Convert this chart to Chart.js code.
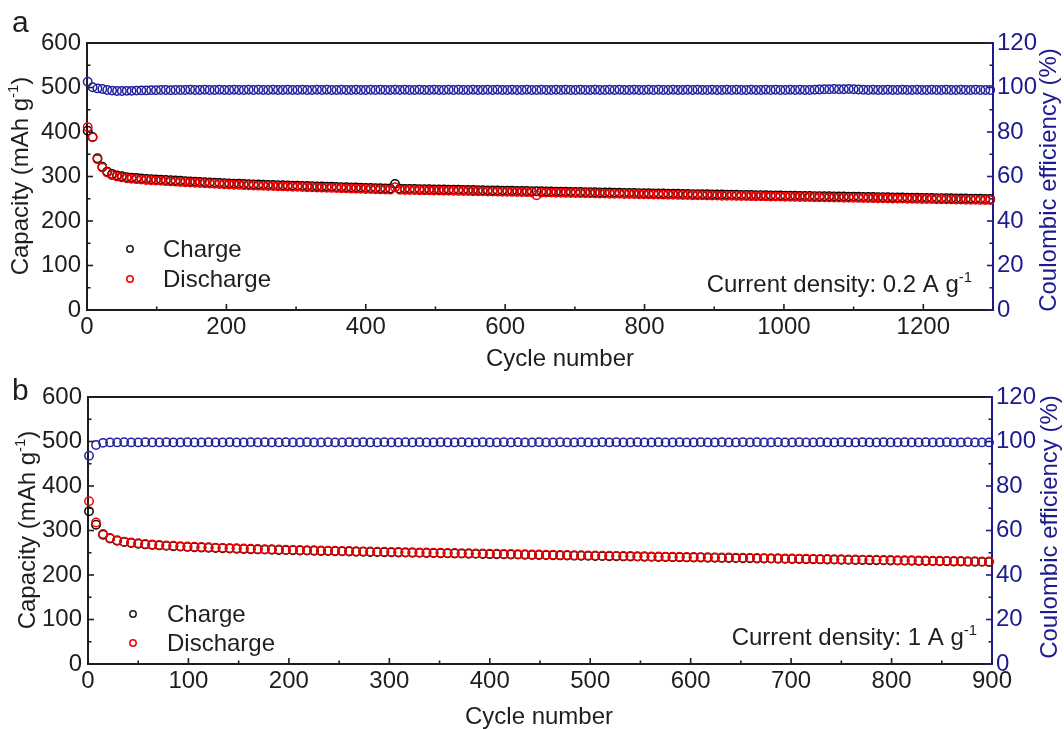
<!DOCTYPE html>
<html>
<head>
<meta charset="utf-8">
<script src="https://cdn.jsdelivr.net/npm/chart.js@4.4.0/dist/chart.umd.min.js"></script>
<style>
  body { margin: 0; background: #fff; }
  #wrap { position: relative; width: 1064px; height: 729px; overflow: hidden; }
  canvas { position: absolute; left: 0; }
</style>
</head>
<body>
<div id="wrap">
  <canvas id="chartA" width="1064" height="372" style="top:0"></canvas>
  <canvas id="chartB" width="1064" height="359" style="top:370px"></canvas>
</div>
<script>
// ---- data: panel a, 0.2 A/g, every 7th cycle ----
const cyclesA = Array.from({ length: 186 }, (_, i) => 1 + 7 * i);

const dischargeA = [
  411, 388, 339, 320, 309, 303, 300, 298, 296, 295,
  294, 293, 292.2, 291.5, 290.8, 290.2, 289.6, 289, 288.4, 287.8,
  287.2, 286.6, 286, 285.4, 284.8, 284.2, 283.6, 283.1, 282.6, 282.1,
  281.6, 281.1, 280.6, 280.2, 279.8, 279.4, 279, 278.7, 278.4, 278,
  277.7, 277.4, 277, 276.7, 276.4, 276, 275.7, 275.4, 275, 274.7,
  274.4, 274, 273.7, 273.4, 273, 272.7, 272.4, 272, 271.7, 271.4,
  271, 270.7, 270.4, 276, 270, 269.8, 269.6, 269.4, 269.2, 269,
  268.8, 268.6, 268.4, 268.2, 268, 267.8, 267.6, 267.4, 267.2, 267,
  266.8, 266.6, 266.4, 266.2, 266, 265.8, 265.6, 265.4, 265.2, 265,
  264.8, 264.6, 258, 264.2, 264, 263.8, 263.6, 263.4, 263.2, 263,
  262.8, 262.6, 262.4, 262.2, 262, 261.8, 261.6, 261.4, 261.2, 261,
  260.8, 260.6, 260.4, 260.2, 260, 259.8, 259.6, 259.4, 259.2, 259,
  258.8, 258.6, 258.4, 258.2, 258, 257.8, 257.6, 257.5, 257.3, 257.1,
  256.9, 256.7, 256.6, 256.4, 256.2, 256, 255.8, 255.7, 255.5, 255.3,
  255.1, 254.9, 254.8, 254.6, 254.4, 254.2, 254, 253.9, 253.7, 253.5,
  253.3, 253.1, 253, 252.8, 252.6, 252.4, 252.2, 252.1, 251.9, 251.7,
  251.5, 251.3, 251.2, 251, 250.8, 250.6, 250.4, 250.3, 250.1, 249.9,
  249.7, 249.5, 249.4, 249.2, 249, 248.8, 248.6, 248.5, 248.3, 248.1,
  247.9, 247.7, 247.6, 247.4, 247.2, 247
];

const chargeA = [
  403, 389, 341, 322, 311, 305.5, 302.5, 300.5, 298.5, 297.5,
  296.5, 295.5, 294.7, 294, 293.3, 292.7, 292.1, 291.5, 290.9, 290.3,
  289.7, 289.1, 288.5, 287.9, 287.3, 286.7, 286.1, 285.6, 285.1, 284.6,
  284.1, 283.6, 283.1, 282.7, 282.3, 281.9, 281.5, 281.2, 280.9, 280.5,
  280.2, 279.9, 279.5, 279.2, 278.9, 278.5, 278.2, 277.9, 277.5, 277.2,
  276.9, 276.5, 276.2, 275.9, 275.5, 275.2, 274.9, 274.5, 274.2, 273.9,
  273.5, 273.2, 272.9, 283, 272.5, 272.3, 272.1, 271.9, 271.7, 271.5,
  271.3, 271.1, 270.9, 270.7, 270.5, 270.3, 270.1, 269.9, 269.7, 269.5,
  269.3, 269.1, 268.9, 268.7, 268.5, 268.3, 268.1, 267.9, 267.7, 267.5,
  267.3, 267.1, 266.9, 266.7, 266.5, 266.3, 266.1, 265.9, 265.7, 265.5,
  265.3, 265.1, 264.9, 264.7, 264.5, 264.3, 264.1, 263.9, 263.7, 263.5,
  263.3, 263.1, 262.9, 262.7, 262.5, 262.3, 262.1, 261.9, 261.7, 261.5,
  261.3, 261.1, 260.9, 260.7, 260.5, 260.3, 260.1, 260, 259.8, 259.6,
  259.4, 259.2, 259.1, 258.9, 258.7, 258.5, 258.3, 258.2, 258, 257.8,
  257.6, 257.4, 257.3, 257.1, 256.9, 256.7, 256.5, 256.4, 256.2, 256,
  255.8, 255.6, 255.5, 255.3, 255.1, 254.9, 254.7, 254.6, 254.4, 254.2,
  254, 253.8, 253.7, 253.5, 253.3, 253.1, 252.9, 252.8, 252.6, 252.4,
  252.2, 252, 251.9, 251.7, 251.5, 251.3, 251.1, 251, 250.8, 250.6,
  250.4, 250.2, 250.1, 249.9, 249.7, 249.5
];

const ceA = [
  102.6, 100.1, 99.6, 99.3, 98.9, 98.6, 98.4, 98.4, 98.5, 98.5,
  98.6, 98.7, 98.7, 98.8, 98.8, 98.9, 98.9, 98.8, 98.9, 98.9,
  98.9, 99.0, 98.9, 98.9, 99.0, 98.9, 98.9, 99.0, 98.9, 98.9,
  99.0, 98.9, 98.9, 99.0, 98.9, 99.0, 98.9, 98.9, 99.0, 98.9,
  98.9, 99.0, 98.9, 98.9, 99.0, 98.9, 98.9, 99.0, 98.9, 99.0,
  98.9, 98.9, 99.0, 98.9, 98.9, 99.0, 98.9, 98.9, 99.0, 98.9,
  99.0, 98.9, 98.9, 99.0, 98.9, 99.0, 98.9, 98.9, 99.0, 98.9,
  98.9, 99.0, 98.9, 98.9, 99.0, 98.9, 99.0, 98.9, 98.9, 99.0,
  98.9, 98.9, 99.0, 98.9, 99.0, 98.9, 98.9, 99.0, 98.9, 98.9,
  99.0, 98.9, 98.9, 99.0, 98.9, 98.9, 99.0, 98.9, 99.0, 98.9,
  98.9, 99.0, 98.9, 98.9, 99.0, 98.9, 98.9, 99.0, 98.9, 99.0,
  98.9, 98.9, 99.0, 98.9, 98.9, 99.0, 98.9, 99.0, 98.9, 98.9,
  99.0, 98.9, 98.9, 99.0, 98.9, 99.0, 98.9, 98.9, 99.0, 98.9,
  98.9, 99.0, 98.9, 99.0, 98.9, 98.9, 99.0, 98.9, 98.9, 99.0,
  98.9, 99.0, 98.9, 98.9, 99.0, 98.9, 99.0, 98.9, 98.9, 99.0,
  99.1, 99.2, 99.2, 99.3, 99.2, 99.2, 99.3, 99.2, 99.1, 99.0,
  98.9, 99.0, 98.9, 98.9, 99.0, 98.9, 98.9, 99.0, 98.9, 98.9,
  99.0, 98.9, 98.9, 99.0, 98.9, 98.9, 99.0, 98.9, 98.9, 99.0,
  98.9, 98.9, 99.0, 98.9, 98.9, 98.9
];

// ---- data: panel b, 1 A/g, every 7th cycle ----
const cyclesB = Array.from({ length: 129 }, (_, i) => 1 + 7 * i);

const dischargeB = [
  366, 318, 292, 283, 278, 275, 273, 271.2, 269.8, 268.6,
  267.5, 266.5, 265.6, 264.8, 264.1, 263.4, 262.8, 262.2, 261.6, 261,
  260.5, 260, 259.5, 259, 258.5, 258.1, 257.7, 257.3, 256.9, 256.5,
  256.2, 255.8, 255.5, 255.1, 254.8, 254.4, 254.1, 253.8, 253.4, 253.1,
  252.8, 252.5, 252.2, 251.9, 251.6, 251.3, 251.1, 250.8, 250.5, 250.2,
  249.9, 249.6, 249.4, 249.1, 248.8, 248.5, 248.2, 247.9, 247.7, 247.4,
  247.1, 246.8, 246.5, 246.2, 246, 245.7, 245.4, 245.1, 244.8, 244.5,
  244.3, 244, 243.8, 243.5, 243.3, 243, 242.8, 242.6, 242.3, 242.1,
  241.8, 241.6, 241.4, 241.1, 240.9, 240.6, 240.4, 240.2, 239.9, 239.7,
  239.4, 239.2, 239, 238.7, 238.5, 238.2, 238, 237.8, 237.5, 237.3,
  237, 236.8, 236.6, 236.3, 236.1, 235.8, 235.6, 235.4, 235.1, 234.9,
  234.6, 234.4, 234.2, 233.9, 233.7, 233.4, 233.2, 233, 232.7, 232.5,
  232.2, 232, 231.8, 231.5, 231.3, 231, 230.8, 230.6, 230.3
];

const chargeB = [
  343, 313, 290.5, 282, 277, 274, 272, 270.2, 268.8, 267.6,
  266.5, 265.5, 264.6, 263.8, 263.1, 262.4, 261.8, 261.2, 260.6, 260,
  259.5, 259, 258.5, 258, 257.5, 257.1, 256.7, 256.3, 255.9, 255.5,
  255.2, 254.8, 254.5, 254.1, 253.8, 253.4, 253.1, 252.8, 252.4, 252.1,
  251.8, 251.5, 251.2, 250.9, 250.6, 250.3, 250.1, 249.8, 249.5, 249.2,
  248.9, 248.6, 248.4, 248.1, 247.8, 247.5, 247.2, 246.9, 246.7, 246.4,
  246.1, 245.8, 245.5, 245.2, 245, 244.7, 244.4, 244.1, 243.8, 243.5,
  243.3, 243, 242.8, 242.5, 242.3, 242, 241.8, 241.6, 241.3, 241.1,
  240.8, 240.6, 240.4, 240.1, 239.9, 239.6, 239.4, 239.2, 238.9, 238.7,
  238.4, 238.2, 238, 237.7, 237.5, 237.2, 237, 236.8, 236.5, 236.3,
  236, 235.8, 235.6, 235.3, 235.1, 234.8, 234.6, 234.4, 234.1, 233.9,
  233.6, 233.4, 233.2, 232.9, 232.7, 232.4, 232.2, 232, 231.7, 231.5,
  231.2, 231, 230.8, 230.5, 230.3, 230, 229.8, 229.6, 229.3
];

const ceB = [
  93.6, 98.4, 99.4, 99.6, 99.6, 99.7, 99.6, 99.6, 99.7, 99.6,
  99.6, 99.7, 99.6, 99.6, 99.7, 99.6, 99.6, 99.7, 99.6, 99.6,
  99.7, 99.6, 99.6, 99.7, 99.6, 99.7, 99.6, 99.6, 99.7, 99.6,
  99.6, 99.7, 99.6, 99.6, 99.7, 99.6, 99.6, 99.7, 99.6, 99.7,
  99.6, 99.6, 99.7, 99.6, 99.6, 99.7, 99.6, 99.7, 99.6, 99.6,
  99.7, 99.6, 99.6, 99.7, 99.6, 99.6, 99.7, 99.6, 99.6, 99.7,
  99.6, 99.7, 99.6, 99.6, 99.7, 99.6, 99.6, 99.7, 99.6, 99.6,
  99.7, 99.6, 99.6, 99.7, 99.6, 99.7, 99.6, 99.6, 99.7, 99.6,
  99.6, 99.7, 99.6, 99.6, 99.7, 99.6, 99.6, 99.7, 99.6, 99.6,
  99.7, 99.6, 99.6, 99.7, 99.6, 99.7, 99.6, 99.6, 99.7, 99.6,
  99.6, 99.7, 99.6, 99.6, 99.7, 99.6, 99.6, 99.7, 99.6, 99.6,
  99.7, 99.6, 99.6, 99.7, 99.6, 99.6, 99.7, 99.6, 99.6, 99.7,
  99.6, 99.6, 99.7, 99.6, 99.6, 99.7, 99.6, 99.6, 99.6
];

// tick labels
const capTicks = [0, 100, 200, 300, 400, 500, 600];
const ceTicks = [0, 20, 40, 60, 80, 100, 120];
const cycleTicksA = [0, 200, 400, 600, 800, 1000, 1200];
const cycleTicksB = [0, 100, 200, 300, 400, 500, 600, 700, 800, 900];

// ---- styling ----
const FONT = '"Liberation Sans", Arial, sans-serif';
const INK = '#1e1e1e';
const NAVY = '#1c1c8e';
const RED = '#f20000';
const BLUE = '#2020a0';
const TXT = 24;

Chart.defaults.font.family = FONT;
Chart.defaults.font.size = TXT;
Chart.defaults.color = INK;

function toPoints(xs, ys) {
    return xs.map((x, i) => ({ x: x, y: ys[i] }));
}

function setFont(ctx, size) {
    ctx.font = size + 'px ' + FONT;
}

// text with optional superscript pieces: parts = [[text, isSup], ...]
function drawRich(ctx, parts, x, y, size, align) {
    let w = 0;
    parts.forEach(([t, sup]) => { setFont(ctx, sup ? size * 0.62 : size); w += ctx.measureText(t).width; });
    let cx = align === 'center' ? x - w / 2 : align === 'right' ? x - w : x;
    parts.forEach(([t, sup]) => {
        setFont(ctx, sup ? size * 0.62 : size);
        ctx.fillText(t, cx, sup ? y - size * 0.4 : y);
        cx += ctx.measureText(t).width;
    });
}

function drawRotated(ctx, parts, x, y, size) {
    ctx.save();
    ctx.translate(x, y);
    ctx.rotate(-Math.PI / 2);
    drawRich(ctx, parts, 0, 0, size, 'center');
    ctx.restore();
}

// inward tick marks, major + minor
function drawTicks(ctx, scale, area, step, majorStep, side) {
    for (let v = scale.min; v <= scale.max + 1e-6; v += step) {
        const len = Math.abs(v % majorStep) < 1e-6 ? 6 : 3.5;
        const p = scale.getPixelForValue(v);
        ctx.beginPath();
        if (side === 'bottom') { ctx.moveTo(p, area.bottom); ctx.lineTo(p, area.bottom - len); }
        if (side === 'left') { ctx.moveTo(area.left, p); ctx.lineTo(area.left + len, p); }
        if (side === 'right') { ctx.moveTo(area.right, p); ctx.lineTo(area.right - len, p); }
        ctx.stroke();
    }
}

const decorations = {
    id: 'decorations',
    afterDraw(chart, args, o) {
        const { ctx, chartArea: a, scales } = chart;
        ctx.save();

        // top edge of the frame
        ctx.strokeStyle = INK;
        ctx.lineWidth = 2;
        ctx.beginPath();
        ctx.moveTo(a.left - 1, a.top);
        ctx.lineTo(a.right, a.top);
        ctx.stroke();

        ctx.lineWidth = 1.6;
        drawTicks(ctx, scales.x, a, o.xMinor, o.xMajor, 'bottom');
        drawTicks(ctx, scales.y, a, 50, 100, 'left');
        ctx.strokeStyle = NAVY;
        drawTicks(ctx, scales.y1, a, 10, 20, 'right');

        ctx.textBaseline = 'alphabetic';
        ctx.textAlign = 'left';

        // panel letter
        ctx.fillStyle = INK;
        setFont(ctx, 30);
        ctx.fillText(o.letter, o.letterX, o.letterY);

        // axis titles
        drawRich(ctx, [['Cycle number', false]], o.xTitleX, o.xTitleY, TXT, 'center');
        drawRotated(ctx, [['Capacity (mAh g', false], ['-1', true], [')', false]], o.yTitleX, o.yTitleY, TXT);
        ctx.fillStyle = NAVY;
        drawRotated(ctx, [['Coulombic efficiency (%)', false]], o.y1TitleX, o.y1TitleY, TXT);

        // legend
        ctx.lineWidth = 1.5;
        [['Charge', INK], ['Discharge', RED]].forEach(([name, col], i) => {
            const cy = o.legendY + i * o.legendGap;
            ctx.strokeStyle = col;
            ctx.beginPath();
            ctx.arc(o.legendX, cy, 3.2, 0, Math.PI * 2);
            ctx.stroke();
            ctx.fillStyle = INK;
            drawRich(ctx, [[name, false]], o.legendTextX, cy + 8, TXT, 'left');
        });

        // current density note
        ctx.fillStyle = INK;
        drawRich(ctx, [[o.note, false], ['-1', true]], o.noteX, o.noteY, TXT, 'right');

        ctx.restore();
    }
};

function buildChart(id, p) {
    const pointStyle = col => ({
        pointStyle: 'circle',
        pointRadius: 4.2,
        pointBorderWidth: 1.5,
        pointBorderColor: col,
        pointBackgroundColor: 'rgba(0,0,0,0)',
        borderColor: col,
        showLine: false,
        clip: false
    });

    new Chart(document.getElementById(id).getContext('2d'), {
        type: 'scatter',
        data: {
            datasets: [
                Object.assign({ label: 'Discharge', data: toPoints(p.cycles, p.discharge), yAxisID: 'y' }, pointStyle(RED)),
                Object.assign({ label: 'Charge', data: toPoints(p.cycles, p.charge), yAxisID: 'y' }, pointStyle('#000')),
                Object.assign({ label: 'Coulombic efficiency', data: toPoints(p.cycles, p.ce), yAxisID: 'y1' }, pointStyle(BLUE))
            ]
        },
        options: {
            responsive: false,
            animation: false,
            events: [],
            layout: { padding: { top: p.top, left: 0, right: 0, bottom: 0 } },
            plugins: {
                legend: { display: false },
                tooltip: { enabled: false },
                decorations: p.deco
            },
            scales: {
                x: {
                    type: 'linear',
                    min: 0,
                    max: p.xMax,
                    grid: { display: false, drawTicks: false },
                    border: { display: true, color: INK, width: 2 },
                    ticks: { padding: 3, autoSkip: false, maxRotation: 0, color: INK, callback: v => String(v) },
                    afterBuildTicks: s => { s.ticks = p.xTicks.map(v => ({ value: v })); },
                    afterFit: s => { s.height = p.xAxisH; }
                },
                y: {
                    position: 'left',
                    min: 0,
                    max: 600,
                    grid: { display: false, drawTicks: false },
                    border: { display: true, color: INK, width: 2 },
                    ticks: { padding: 6, color: INK, callback: v => String(v) },
                    afterBuildTicks: s => { s.ticks = capTicks.map(v => ({ value: v })); },
                    afterFit: s => { s.width = p.leftW; }
                },
                y1: {
                    position: 'right',
                    min: 0,
                    max: 120,
                    grid: { display: false, drawTicks: false },
                    border: { display: true, color: NAVY, width: 2 },
                    ticks: { padding: 4, color: NAVY, callback: v => String(v) },
                    afterBuildTicks: s => { s.ticks = ceTicks.map(v => ({ value: v })); },
                    afterFit: s => { s.width = p.rightW; }
                }
            }
        },
        plugins: [decorations]
    });
}

buildChart('chartA', {
    cycles: cyclesA, discharge: dischargeA, charge: chargeA, ce: ceA,
    xMax: 1300, xTicks: cycleTicksA,
    top: 43, xAxisH: 62, leftW: 87, rightW: 71,
    deco: {
        letter: 'a', letterX: 12, letterY: 32,
        xMinor: 100, xMajor: 200,
        xTitleX: 560, xTitleY: 366,
        yTitleX: 28, yTitleY: 176,
        y1TitleX: 1056, y1TitleY: 180,
        legendX: 130, legendY: 249, legendGap: 30, legendTextX: 163,
        note: 'Current density: 0.2 A g', noteX: 972, noteY: 292
    }
});

buildChart('chartB', {
    cycles: cyclesB, discharge: dischargeB, charge: chargeB, ce: ceB,
    xMax: 900, xTicks: cycleTicksB,
    top: 27, xAxisH: 65, leftW: 88, rightW: 72,
    deco: {
        letter: 'b', letterX: 12, letterY: 30,
        xMinor: 50, xMajor: 100,
        xTitleX: 539, xTitleY: 354,
        yTitleX: 35, yTitleY: 160,
        y1TitleX: 1057, y1TitleY: 157,
        legendX: 133, legendY: 244, legendGap: 29, legendTextX: 167,
        note: 'Current density: 1 A g', noteX: 977, noteY: 275
    }
});
</script>
</body>
</html>
